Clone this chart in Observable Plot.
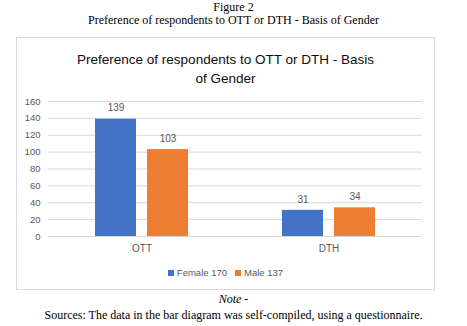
<!DOCTYPE html>
<html>
<head>
<meta charset="utf-8">
<script src="https://cdn.jsdelivr.net/npm/d3@7"></script>
<script src="https://cdn.jsdelivr.net/npm/@observablehq/plot@0.6"></script>
<style>
  html, body { margin: 0; padding: 0; background: #fff; }
  body { width: 467px; height: 326px; position: relative; overflow: hidden; }
  .serif { font-family: "Liberation Serif", "Times New Roman", serif; font-size: 12px; color: #000; text-align: center; position: absolute; left: 0; width: 467px; }
  #box { position: absolute; left: 16px; top: 37px; width: 417px; height: 251px; border: 1px solid #d9d9d9; background: #fff; }
  #title { position: absolute; left: 0; top: 12px; width: 417px; text-align: center; font-family: "Liberation Sans", Arial, sans-serif; font-size: 13.5px; line-height: 19px; color: #0d0d0d; }
  #plot { position: absolute; left: 0; top: 52px; }
  #legend { position: absolute; left: 0; top: 229px; width: 417px; text-align: center; font-family: "Liberation Sans", Arial, sans-serif; font-size: 9.5px; color: #595959; }
  #legend span.sw { display: inline-block; width: 6px; height: 6px; margin-right: 3px; vertical-align: 0px; }
  #legend span.item { margin: 0 4px; }
</style>
</head>
<body>
<div class="serif" style="top:1px; line-height:13px;">Figure 2<br>Preference of respondents to OTT or DTH - Basis of Gender</div>
<div id="box">
  <div id="title">Preference of respondents to OTT or DTH - Basis<br>of Gender</div>
  <div id="plot"></div>
  <div id="legend"></div>
</div>
<div class="serif" style="top:292px; font-style:italic;">Note -</div>
<div class="serif" style="top:308px;">Sources: The data in the bar diagram was self-compiled, using a questionnaire.</div>
<script>
const categories = ["OTT", "DTH"];
const genders = ["Female", "Male"];
const legendLabels = ["Female 170", "Male 137"];
const female = [139, 31];
const male = [103, 34];
const yTicks = [0, 20, 40, 60, 80, 100, 120, 140, 160];
const colors = ["#4472C4", "#ED7D31"];

const data = [];
categories.forEach((c, i) => {
  data.push({category: c, gender: "Female", value: female[i]});
  data.push({category: c, gender: "Male", value: male[i]});
});

const chart = Plot.plot({
  width: 417,
  height: 170,
  marginTop: 11,
  marginBottom: 24,
  marginLeft: 31,
  marginRight: 12,
  style: {fontFamily: "Liberation Sans, Arial, sans-serif", color: "#595959", background: "transparent"},
  fx: {domain: categories, padding: 0, label: null, axis: "bottom", tickSize: 0, tickPadding: 8, fontSize: 9},
  x: {domain: genders, paddingInner: 0.2075, paddingOuter: 0.868, axis: null},
  y: {domain: [0, 160], ticks: yTicks, label: null, axis: null},
  color: {domain: genders, range: colors},
  marks: [
    Plot.ruleY(yTicks, {stroke: "#d9d9d9", strokeWidth: 1}),
    Plot.axisY(yTicks, {tickSize: 0, tickPadding: 8, fontSize: 9.5, label: null, fill: "#595959", facetAnchor: "left"}),
    Plot.barY(data, {fx: "category", x: "gender", y: "value", fill: "gender"}),
    Plot.text(data, {fx: "category", x: "gender", y: "value", text: d => String(d.value), dy: -11, fontSize: 10, fill: "#595959"})
  ]
});
document.getElementById("plot").appendChild(chart);

const legend = document.getElementById("legend");
legendLabels.forEach((l, i) => {
  const item = document.createElement("span");
  item.className = "item";
  const sw = document.createElement("span");
  sw.className = "sw";
  sw.style.background = colors[i];
  item.appendChild(sw);
  item.appendChild(document.createTextNode(l));
  legend.appendChild(item);
});
</script>
</body>
</html>
